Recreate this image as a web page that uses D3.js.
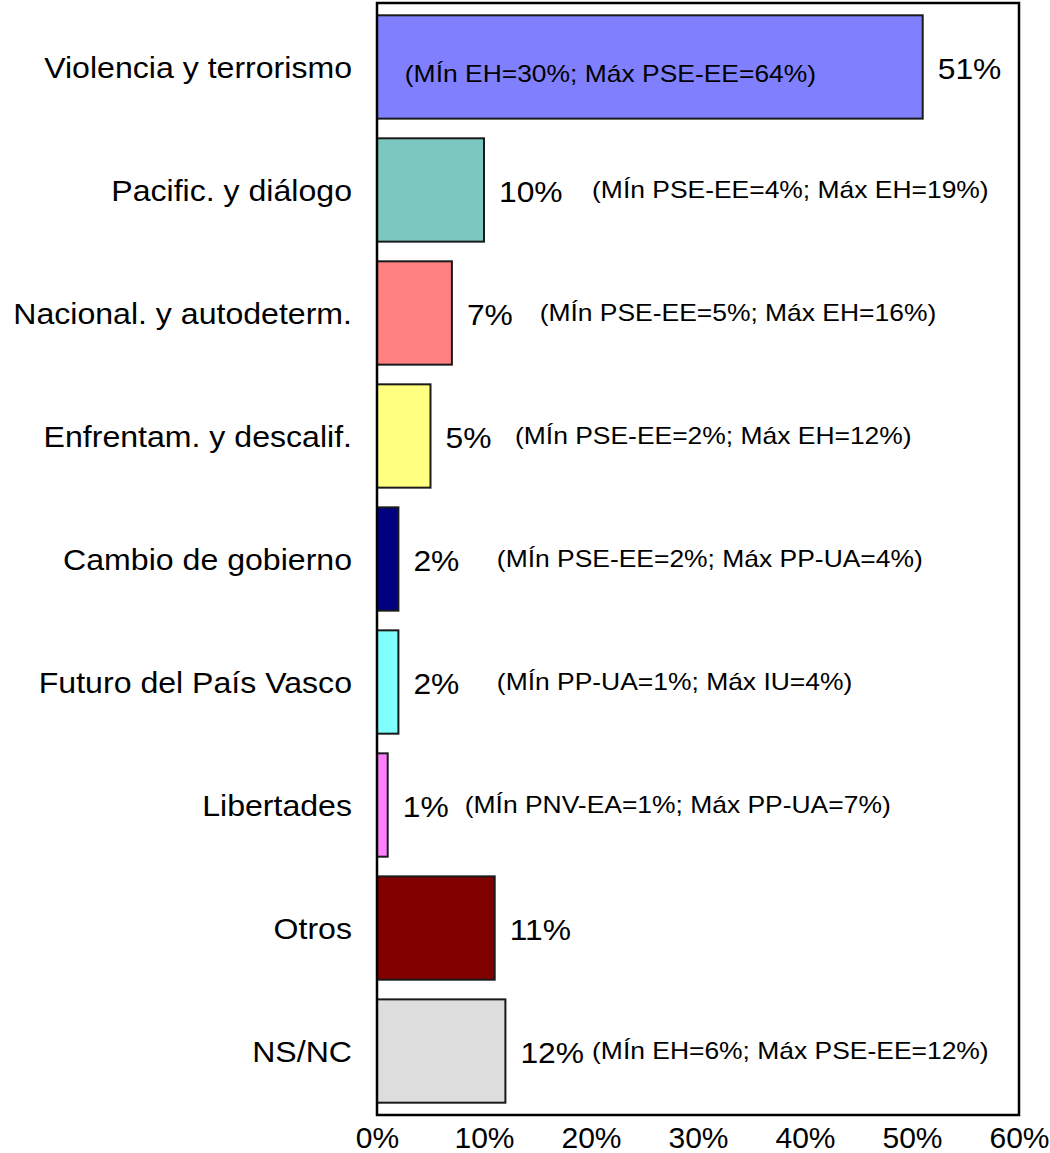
<!DOCTYPE html>
<html>
<head>
<meta charset="utf-8">
<script src="https://cdn.jsdelivr.net/npm/d3@7"></script>
<style>
  body { margin: 0; background: #fff; }
  text { font-family: "Liberation Sans", Arial, sans-serif; fill: #000; }
</style>
</head>
<body>
<div id="chart"></div>
<script>
// data
var categories = ["Violencia y terrorismo", "Pacific. y diálogo", "Nacional. y autodeterm.",
  "Enfrentam. y descalif.", "Cambio de gobierno", "Futuro del País Vasco",
  "Libertades", "Otros", "NS/NC"];
var values = [51, 10, 7, 5, 2, 2, 1, 11, 12];
var notes = ["(MÍn EH=30%; Máx PSE-EE=64%)", "(MÍn PSE-EE=4%; Máx EH=19%)",
  "(MÍn PSE-EE=5%; Máx EH=16%)", "(MÍn PSE-EE=2%; Máx EH=12%)",
  "(MÍn PSE-EE=2%; Máx PP-UA=4%)", "(MÍn PP-UA=1%; Máx IU=4%)",
  "(MÍn PNV-EA=1%; Máx PP-UA=7%)", "", "(MÍn EH=6%; Máx PSE-EE=12%)"];
var xTicks = [0, 10, 20, 30, 40, 50, 60];

// styling / layout
var colors = ["#8080ff", "#7cc8c1", "#ff8080", "#ffff80", "#000080", "#80ffff", "#ff80ff", "#800000", "#dddddd"];
var noteAt = [2.6, 20.1, 15.2, 12.9, 11.2, 11.2, 8.2, 0, 20.1]; // where each note starts, in axis units

var width = 1050, height = 1153;
var plotLeft = 377, plotRight = 1019, plotTop = 3, plotBottom = 1115;

var svg = d3.select("#chart").append("svg")
  .attr("width", width)
  .attr("height", height);

var x = d3.scaleLinear().domain([0, 60]).range([plotLeft, plotRight]);
var y = d3.scaleBand().domain(categories).range([plotTop, plotBottom])
  .paddingInner(0.16).paddingOuter(0.1);

var mid = function(i) { return y(categories[i]) + y.bandwidth() / 2; };

svg.selectAll("rect.bar")
  .data(values)
  .enter()
  .append("rect")
  .attr("class", "bar")
  .attr("x", x(0))
  .attr("y", function(d, i) { return y(categories[i]); })
  .attr("width", function(d) { return x(d) - x(0); })
  .attr("height", y.bandwidth())
  .attr("fill", function(d, i) { return colors[i]; })
  .attr("stroke", "#1a1a1a")
  .attr("stroke-width", 2);

// frame
svg.append("rect")
  .attr("x", plotLeft).attr("y", plotTop)
  .attr("width", plotRight - plotLeft).attr("height", plotBottom - plotTop)
  .attr("fill", "none")
  .attr("stroke", "#000")
  .attr("stroke-width", 2.5);

// category labels (original text is a bit wider than Liberation Sans)
svg.selectAll("text.cat")
  .data(categories)
  .enter()
  .append("text")
  .attr("class", "cat")
  .attr("transform", function(d, i) {
    return "translate(" + (plotLeft - 25) + "," + mid(i) + ") scale(1.07,1)";
  })
  .attr("dy", "0.36em")
  .attr("text-anchor", "end")
  .style("font-size", "30px")
  .text(function(d) { return d; });

// value labels
svg.selectAll("text.val")
  .data(values)
  .enter()
  .append("text")
  .attr("class", "val")
  .attr("transform", function(d, i) {
    return "translate(" + (x(d) + 15) + "," + (mid(i) + 1) + ") scale(1.06,1)";
  })
  .attr("dy", "0.36em")
  .style("font-size", "30px")
  .text(function(d) { return d + "%"; });

// min / max notes
svg.selectAll("text.note")
  .data(notes)
  .enter()
  .append("text")
  .attr("class", "note")
  .attr("transform", function(d, i) {
    return "translate(" + x(noteAt[i]) + "," + (mid(i) + (i == 0 ? 7 : 0)) + ") scale(1.15,1)";
  })
  .attr("dy", "0.36em")
  .style("font-size", "23px")
  .text(function(d) { return d; });

// x axis labels
var xAxis = d3.axisBottom(x).tickValues(xTicks)
  .tickFormat(function(d) { return d + "%"; })
  .tickSize(0).tickPadding(0);

var gx = svg.append("g")
  .attr("transform", "translate(0," + plotBottom + ")")
  .call(xAxis);
gx.select(".domain").remove();
gx.selectAll("text")
  .style("font-size", "30px")
  .attr("fill", "#000")
  .attr("y", 33)
  .attr("dy", null);
</script>
</body>
</html>
